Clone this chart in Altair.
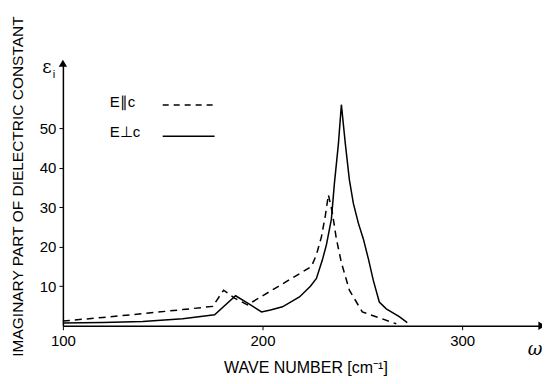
import altair as alt
import pandas as pd

# E perpendicular c (solid)
perp_x = [100, 120, 140, 160, 176, 186.5, 193, 199.5, 204, 210, 218.5, 224, 227, 230, 232, 234.5, 236, 238, 239.5,
          241.5, 243.5, 245.5, 248, 250.5, 253, 255.5, 258.5, 262, 268.5, 272.5]
perp_y = [0.7, 0.8, 1.1, 1.8, 2.8, 7.6, 5.6, 3.5, 4.0, 4.8, 7.3, 10, 12, 16.7, 20.5, 27, 36, 46, 56,
          46, 37, 31, 26, 22, 17, 11.5, 6.0, 4.3, 2.3, 0.8]

# E parallel c (dashed)
par_x = [100, 120, 140, 160, 175, 180.5, 186, 192.5, 208, 224.5, 227, 229.5, 231.5, 233,
         235, 237, 239.5, 243.5, 250, 258.5, 267]
par_y = [1.2, 2.1, 3.05, 4.1, 4.9, 9.0, 7.0, 5.3, 10, 15, 18, 22.5, 28, 33.2,
         28.6, 22, 16, 9, 3.5, 2.0, 0.5]

x_ticks = [100, 200, 300]
y_ticks = [10, 20, 30, 40, 50]
X_MIN, X_MAX = 100, 340
Y_MIN, Y_MAX = 0, 66.5

legend_labels = ["E\u2225c", "E\u22a5c"]
legend_series = ["par", "perp"]
legend_x_text = [123.5, 123.5]
legend_x_line = [150, 150]
legend_x2_line = [175, 176]
legend_y_text = [56.6, 49.0]
legend_y_line = [55.9, 48.0]

# axis symbol labels (epsilon_i at top of y axis, omega at end of x axis)
sym_text = ["\u03b5", "i", "\u03c9"]
sym_x = [92, 95.5, 336.5]
sym_y = [65.2, 63.6, -6.1]
sym_size = [18, 11, 18]
sym_font = ["DejaVu Serif", "Liberation Sans", "DejaVu Serif"]
sym_style = ["normal", "normal", "italic"]

FONT = "Liberation Sans"

xs = alt.Scale(domain=[X_MIN, X_MAX], nice=False, zero=False)
ys = alt.Scale(domain=[Y_MIN, Y_MAX], nice=False, zero=False)

xax = alt.Axis(values=x_ticks, format="d", grid=False, labelFontSize=15, labelFont=FONT,
               labelColor="black", tickColor="black", domainColor="black", domainWidth=1.5,
               tickSize=4, labelPadding=4, labelFlush=False,
               title="WAVE  NUMBER [cm\u207b\u00b9]", titleFont=FONT, titleFontSize=16,
               titleFontWeight="normal", titleColor="black", titleX=243, titleY=42,
               titleAlign="center", titleBaseline="middle")
yax = alt.Axis(values=y_ticks, format="d", grid=False, labelFontSize=15, labelFont=FONT,
               labelColor="black", tickColor="black", domainColor="black", domainWidth=1.5,
               tickSize=4, labelPadding=3, labelFlush=False,
               title="IMAGINARY  PART OF DIELECTRIC CONSTANT", titleFont=FONT, titleFontSize=15.5,
               titleFontWeight="normal", titleColor="black", titleAngle=270, titleX=-45, titleY=123,
               titleAlign="center", titleBaseline="middle")

perp = alt.Chart(pd.DataFrame({"x": perp_x, "y": perp_y})).mark_line(color="black", strokeWidth=1.5).encode(
    x=alt.X("x:Q", scale=xs, axis=xax),
    y=alt.Y("y:Q", scale=ys, axis=yax),
)
par = alt.Chart(pd.DataFrame({"x": par_x, "y": par_y})).mark_line(
    color="black", strokeWidth=1.5, strokeDash=[7, 5]).encode(
    x=alt.X("x:Q", scale=xs),
    y=alt.Y("y:Q", scale=ys),
)

leg = pd.DataFrame({"label": legend_labels, "s": legend_series, "tx": legend_x_text, "lx": legend_x_line,
                    "lx2": legend_x2_line, "ty": legend_y_text, "ly": legend_y_line})
leg_text = alt.Chart(leg).mark_text(align="left", baseline="middle", fontSize=15, font=FONT, color="black").encode(
    x=alt.X("tx:Q", scale=xs), y=alt.Y("ty:Q", scale=ys), text="label:N")
leg_dash = alt.Chart(leg[leg.s == "par"]).mark_rule(color="black", strokeWidth=1.5, strokeDash=[6, 5]).encode(
    x=alt.X("lx:Q", scale=xs), x2="lx2:Q", y=alt.Y("ly:Q", scale=ys))
leg_solid = alt.Chart(leg[leg.s == "perp"]).mark_rule(color="black", strokeWidth=1.5).encode(
    x=alt.X("lx:Q", scale=xs), x2="lx2:Q", y=alt.Y("ly:Q", scale=ys))

arrow_up = alt.Chart(pd.DataFrame({"x": [X_MIN], "y": [Y_MAX]})).mark_point(
    shape="triangle-up", filled=True, color="black", size=70, opacity=1).encode(
    x=alt.X("x:Q", scale=xs), y=alt.Y("y:Q", scale=ys))
arrow_right = alt.Chart(pd.DataFrame({"x": [X_MAX], "y": [Y_MIN]})).mark_point(
    shape="triangle-right", filled=True, color="black", size=70, opacity=1).encode(
    x=alt.X("x:Q", scale=xs), y=alt.Y("y:Q", scale=ys))

sym = pd.DataFrame({"t": sym_text, "x": sym_x, "y": sym_y})
sym_layers = []
for i in range(len(sym_text)):
    sym_layers.append(
        alt.Chart(sym.iloc[[i]]).mark_text(
            fontSize=sym_size[i], font=sym_font[i], fontStyle=sym_style[i], color="black",
            align="center", baseline="middle").encode(
            x=alt.X("x:Q", scale=xs), y=alt.Y("y:Q", scale=ys), text="t:N")
    )

chart = alt.layer(perp, par, leg_text, leg_dash, leg_solid, arrow_up, arrow_right, *sym_layers).properties(
    width=480, height=263,
    autosize=alt.AutoSizeParams(type="none"),
    padding={"left": 55, "top": 55, "right": 0, "bottom": 55},
    background="white",
).configure_view(stroke=None)

chart.save("out.html", embed_options={"renderer": "svg", "actions": False})
